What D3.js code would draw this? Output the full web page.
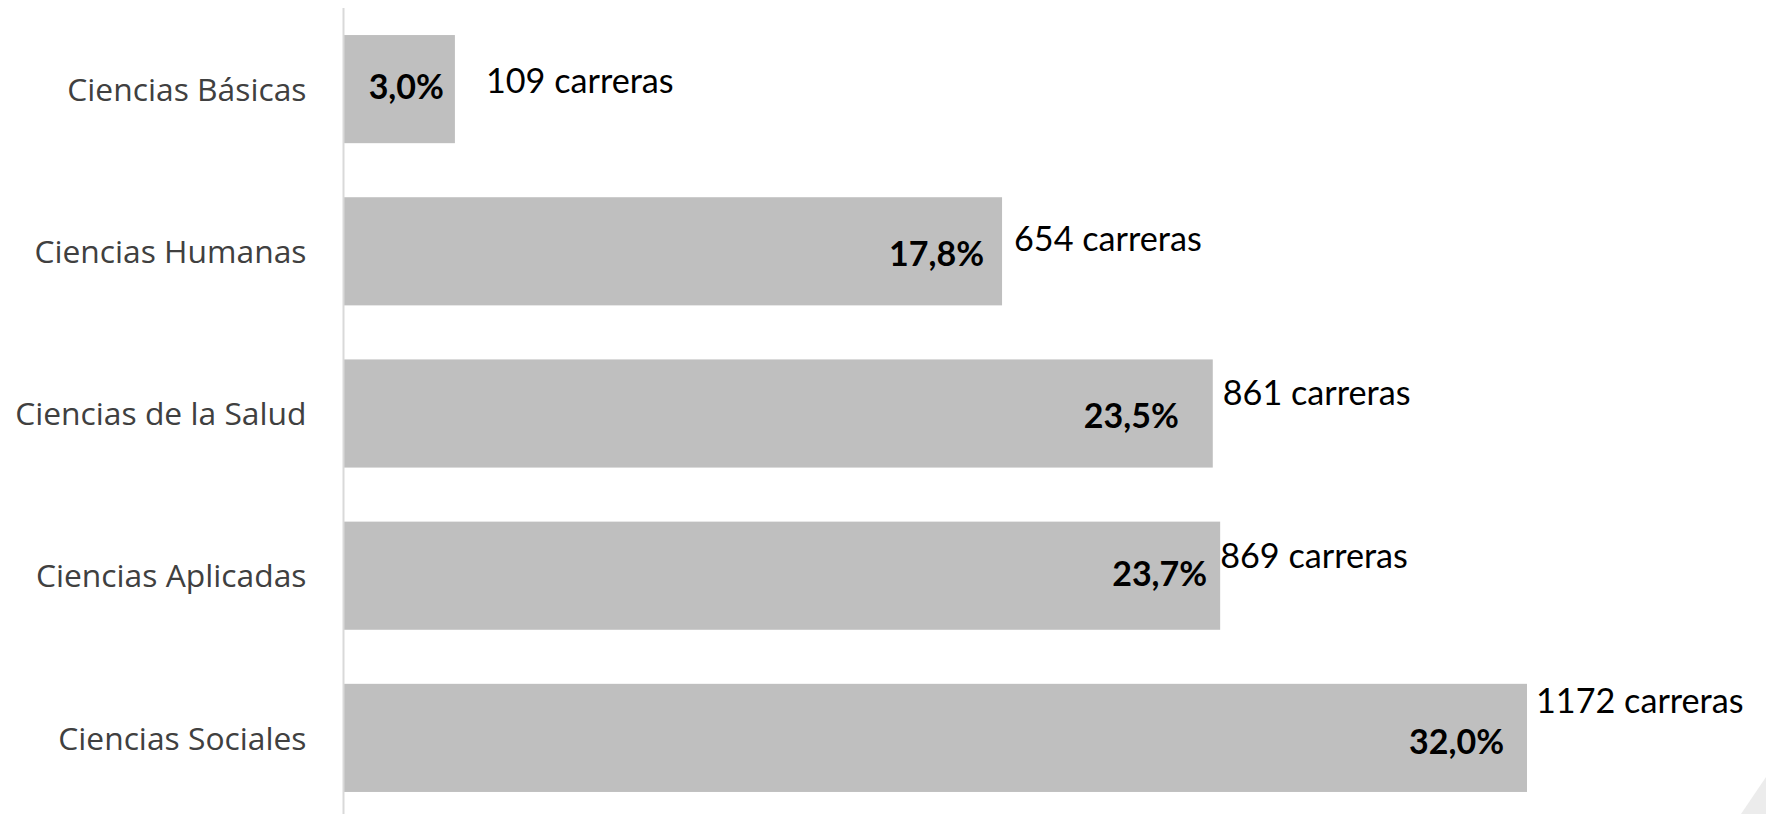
<!DOCTYPE html>
<html>
<head>
<meta charset="utf-8">
<script src="https://cdn.jsdelivr.net/npm/d3@7"></script>
<style>
  html, body { margin: 0; padding: 0; background: #ffffff; }
  svg { display: block; }
</style>
</head>
<body>
<svg id="chart" width="1766" height="814"></svg>
<script>
// ---- data ----
const categories = ["Ciencias Básicas", "Ciencias Humanas", "Ciencias de la Salud", "Ciencias Aplicadas", "Ciencias Sociales"];
const percentages = [3.0, 17.8, 23.5, 23.7, 32.0];
const counts = [109, 654, 861, 869, 1172];
const pctLabels = ["3,0%", "17,8%", "23,5%", "23,7%", "32,0%"];
const countLabels = ["109 carreras", "654 carreras", "861 carreras", "869 carreras", "1172 carreras"];

// ---- layout (manual label nudges as in the original) ----
const pctDx = [-11, -18, -34, -13, -23];      // right edge offset from bar end
const pctDy = [10, 15, 14, 10, 16];           // baseline offset from band centre
const cntDx = [31, 12, 10, 0, 9];             // start offset from bar end
const cntDy = [4, 0, -9, -8, -25];            // baseline offset from band centre

const W = 1766, H = 814;
const svg = d3.select("#chart");

const x = d3.scaleLinear().domain([0, 32.0]).range([344, 1527]);
const y = d3.scaleBand().domain(categories).range([8, 819]).paddingInner(1/3).paddingOuter(1/6);

// decorative corner shape
svg.append("path")
  .attr("d", "M1741,814 L1766,777 L1766,814 Z")
  .attr("fill", "#ececec");

// bars
svg.selectAll("rect.bar")
  .data(categories)
  .join("rect")
  .attr("class", "bar")
  .attr("x", x(0))
  .attr("y", d => y(d))
  .attr("width", (d, i) => x(percentages[i]) - x(0))
  .attr("height", y.bandwidth())
  .attr("fill", "#bfbfbf");

// y axis line
const yAxis = d3.axisLeft(y).tickSize(0).tickPadding(37);
const gy = svg.append("g").attr("transform", `translate(${x(0) - 0.5},0)`).call(yAxis);
gy.select(".domain").remove();
gy.append("line")
  .attr("x1", 0).attr("x2", 0)
  .attr("y1", 8).attr("y2", H)
  .attr("stroke", "#d9d9d9").attr("stroke-width", 2);
gy.selectAll(".tick text")
  .attr("font-family", "'Open Sans', 'Noto Sans', sans-serif")
  .attr("font-size", 31.8)
  .attr("fill", "#404040")
  .attr("dy", "0.37em");

// percentage labels
svg.selectAll("text.pct")
  .data(categories)
  .join("text")
  .attr("class", "pct")
  .attr("x", (d, i) => x(percentages[i]) + pctDx[i])
  .attr("y", (d, i) => y(d) + y.bandwidth() / 2 + pctDy[i])
  .attr("text-anchor", "end")
  .attr("font-family", "Lato, 'Open Sans', sans-serif")
  .attr("font-weight", "bold")
  .attr("font-size", 34)
  .attr("fill", "#000000")
  .text((d, i) => pctLabels[i]);

// count labels
svg.selectAll("text.cnt")
  .data(categories)
  .join("text")
  .attr("class", "cnt")
  .attr("x", (d, i) => x(percentages[i]) + cntDx[i])
  .attr("y", (d, i) => y(d) + y.bandwidth() / 2 + cntDy[i])
  .attr("text-anchor", "start")
  .attr("font-family", "Lato, 'Open Sans', sans-serif")
  .attr("font-size", 34.2)
  .attr("fill", "#000000")
  .text((d, i) => countLabels[i]);
</script>
</body>
</html>
